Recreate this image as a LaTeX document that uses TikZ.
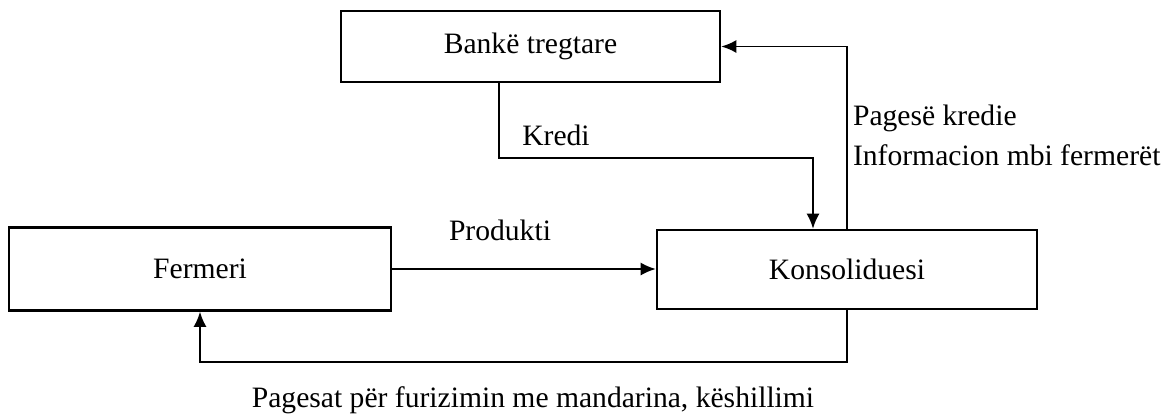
\documentclass[tikz,border=0pt]{standalone}
\usepackage{fontspec}
\setmainfont{Liberation Serif}
\usetikzlibrary{arrows.meta}

\begin{document}
\begin{tikzpicture}[x=0.5pt, y=-0.5pt, >={Latex[length=7.5pt,width=6.5pt]},
  every node/.style = {font=\fontsize{14.8}{18}\selectfont},
  box/.style = {shape=rectangle, draw, line width=1.3pt, inner sep=0pt},
  flow/.style = {line width=0.9pt}]
  \useasboundingbox (0,0) rectangle (1172,419);
  \node[box, minimum width=189.5pt, minimum height=35.5pt] (bank) at (530.5,46.5) {Bankë tregtare};
  \node[box, minimum width=191pt, minimum height=41.5pt] (ferm) at (200,269) {Fermeri};
  \node[box, minimum width=190pt, minimum height=39.5pt] (kons) at (847,269.5) {Konsoliduesi};
  \draw[flow,->] ([xshift=-15.75pt]bank.south) -- ++(0,75) -| ([xshift=-17pt]kons.north);
  \draw[flow,->] (kons.north) |- (bank.east);
  \draw[flow,->] (ferm.east) -- (ferm.east -| kons.west);
  \draw[flow,->] (kons.south) -- ++(0,52) -| (ferm.south);
  \node (kredi) at (556,135) {Kredi};
  \node[anchor=west] (pagese) at (846,118) {Pagesë kredie};
  \node[anchor=west] (info) at (846,155) {Informacion mbi fermerët};
  \node (prod) at (500,230) {Produkti};
  \node (pagesat) at (533,400) {Pagesat për furizimin me mandarina, këshillimi};
\end{tikzpicture}
\end{document}
